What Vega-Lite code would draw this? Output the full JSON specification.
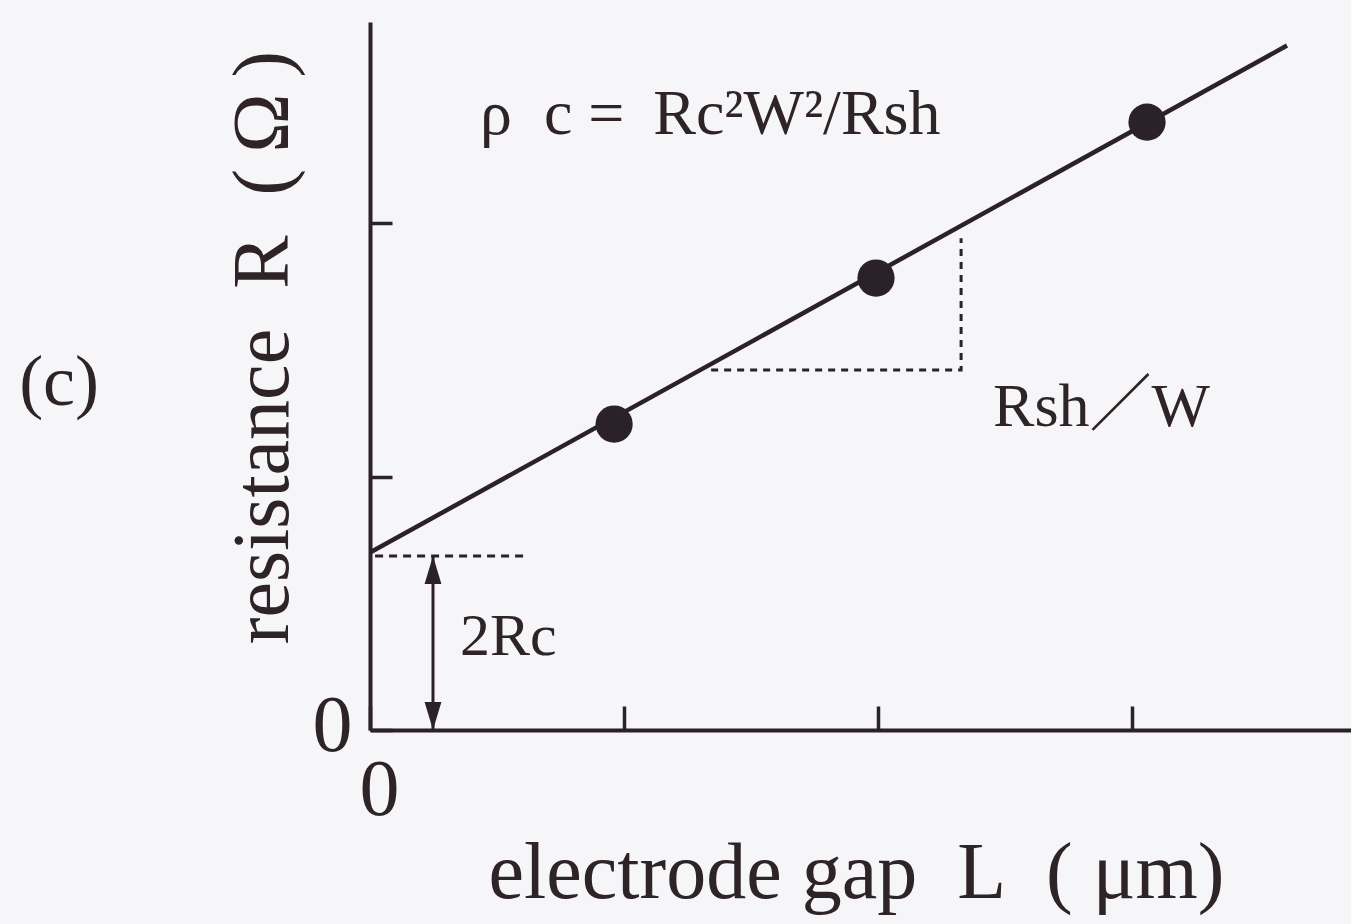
{
  "$schema": "https://vega.github.io/schema/vega-lite/v6.json",
  "width": 981,
  "height": 708,
  "autosize": {"type": "none"},
  "padding": {"left": 370, "top": 22, "right": 0, "bottom": 194},
  "background": "#f6f5f7",
  "config": {
    "view": {"stroke": null},
    "font": "Liberation Serif",
    "axis": {
      "grid": false,
      "domainColor": "#2b2127",
      "domainWidth": 4,
      "tickColor": "#2b2127",
      "tickWidth": 3.5,
      "labelColor": "#2e2428",
      "titleColor": "#2e2428",
      "labelFont": "Liberation Serif",
      "titleFont": "Liberation Serif",
      "labelFontSize": 80,
      "titleFontSize": 80,
      "titleFontWeight": "normal",
      "labelFlush": false,
      "labelOverlap": false
    }
  },
  "datasets": {
    "measured": [
      {"L": 0.961, "R": 1.207},
      {"L": 1.992, "R": 1.783},
      {"L": 3.059, "R": 2.398}
    ],
    "fit": [
      {"L": 0.0, "R": 0.70},
      {"L": 3.61, "R": 2.70}
    ],
    "intercept": [
      {"L": 0.02, "R": 0.686},
      {"L": 0.618, "R": 0.686}
    ],
    "slope": [
      {"seq": 1, "L": 1.343, "R": 1.42},
      {"seq": 2, "L": 2.327, "R": 1.42},
      {"seq": 3, "L": 2.327, "R": 1.94}
    ],
    "arrowShaft": [
      {"L": 0.248, "R": 0.686, "R2": 0.0}
    ],
    "arrowHeads": [
      {"L": 0.248, "R": 0.631, "dir": "up"},
      {"L": 0.248, "R": 0.055, "dir": "down"}
    ],
    "formula": [{"L": 0.433, "R": 2.351, "text": "ρ\u2002c = \u2009Rc²W²/Rsh"}],
    "slopeLabel": [{"L": 2.453, "R": 1.199, "text": "Rsh／W"}],
    "interceptLabel": [{"L": 0.354, "R": 0.296, "text": "2Rc"}],
    "panelLabel": [{"L": -1.224, "R": 1.282, "text": "(c)"}]
  },
  "layer": [
    {
      "data": {"name": "fit"},
      "mark": {"type": "line", "color": "#2b2127", "strokeWidth": 4.5, "clip": false},
      "encoding": {
        "x": {
          "field": "L",
          "type": "quantitative",
          "scale": {"domain": [0, 3.862], "nice": false, "zero": false},
          "axis": {
            "title": "electrode gap\u00a0\u00a0L\u00a0\u00a0(\u00a0μm)",
            "values": [0, 1, 2, 3],
            "labelExpr": "datum.value === 0 ? '0' : ''",
            "tickSize": -24,
            "labelPadding": 45,
            "labelOffset": 9,
            "titleX": 486,
            "titleY": 167,
            "titleAlign": "center",
            "titleBaseline": "alphabetic",
            "titleAnchor": null
          }
        },
        "y": {
          "field": "R",
          "type": "quantitative",
          "scale": {"domain": [0, 2.793], "nice": false, "zero": false},
          "axis": {
            "title": "resistance\u2002R\u2002(\u2009Ω\u2009)",
            "values": [0, 1, 2],
            "labelExpr": "datum.value === 0 ? '0' : ''",
            "tickSize": -22,
            "labelPadding": 40,
            "labelOffset": -4,
            "titleAngle": -90,
            "titleX": -83,
            "titleY": 325,
            "titleAlign": "center",
            "titleBaseline": "alphabetic",
            "titleAnchor": null
          }
        }
      }
    },
    {
      "data": {"name": "intercept"},
      "mark": {"type": "line", "color": "#2b2127", "strokeWidth": 3, "strokeDash": [8, 6]},
      "encoding": {
        "x": {"field": "L", "type": "quantitative"},
        "y": {"field": "R", "type": "quantitative"}
      }
    },
    {
      "data": {"name": "slope"},
      "mark": {"type": "line", "color": "#2b2127", "strokeWidth": 3, "strokeDash": [7, 6]},
      "encoding": {
        "x": {"field": "L", "type": "quantitative"},
        "y": {"field": "R", "type": "quantitative"},
        "order": {"field": "seq", "type": "ordinal"}
      }
    },
    {
      "data": {"name": "arrowShaft"},
      "mark": {"type": "rule", "color": "#2b2127", "strokeWidth": 3},
      "encoding": {
        "x": {"field": "L", "type": "quantitative"},
        "y": {"field": "R", "type": "quantitative"},
        "y2": {"field": "R2"}
      }
    },
    {
      "data": {"name": "arrowHeads"},
      "mark": {"type": "point", "filled": true, "opacity": 1, "size": 784, "color": "#2b2127"},
      "encoding": {
        "x": {"field": "L", "type": "quantitative"},
        "y": {"field": "R", "type": "quantitative"},
        "shape": {
          "field": "dir",
          "type": "nominal",
          "scale": {"domain": ["up", "down"], "range": ["M0,-1L0.6,1L-0.6,1Z", "M0,1L0.6,-1L-0.6,-1Z"]},
          "legend": null
        }
      }
    },
    {
      "data": {"name": "measured"},
      "mark": {"type": "circle", "size": 1385, "color": "#2a2228", "opacity": 1},
      "encoding": {
        "x": {"field": "L", "type": "quantitative"},
        "y": {"field": "R", "type": "quantitative"}
      }
    },
    {
      "data": {"name": "formula"},
      "mark": {"type": "text", "align": "left", "baseline": "alphabetic", "fontSize": 64, "font": "Liberation Serif", "color": "#2e2428"},
      "encoding": {
        "x": {"field": "L", "type": "quantitative"},
        "y": {"field": "R", "type": "quantitative"},
        "text": {"field": "text"}
      }
    },
    {
      "data": {"name": "slopeLabel"},
      "mark": {"type": "text", "align": "left", "baseline": "alphabetic", "fontSize": 62, "font": "Liberation Serif, Noto Sans CJK JP", "color": "#2e2428"},
      "encoding": {
        "x": {"field": "L", "type": "quantitative"},
        "y": {"field": "R", "type": "quantitative"},
        "text": {"field": "text"}
      }
    },
    {
      "data": {"name": "interceptLabel"},
      "mark": {"type": "text", "align": "left", "baseline": "alphabetic", "fontSize": 60, "font": "Liberation Serif", "color": "#2e2428"},
      "encoding": {
        "x": {"field": "L", "type": "quantitative"},
        "y": {"field": "R", "type": "quantitative"},
        "text": {"field": "text"}
      }
    },
    {
      "data": {"name": "panelLabel"},
      "mark": {"type": "text", "align": "center", "baseline": "alphabetic", "fontSize": 72, "font": "Liberation Serif", "color": "#2e2428", "clip": false},
      "encoding": {
        "x": {"field": "L", "type": "quantitative"},
        "y": {"field": "R", "type": "quantitative"},
        "text": {"field": "text"}
      }
    }
  ]
}
